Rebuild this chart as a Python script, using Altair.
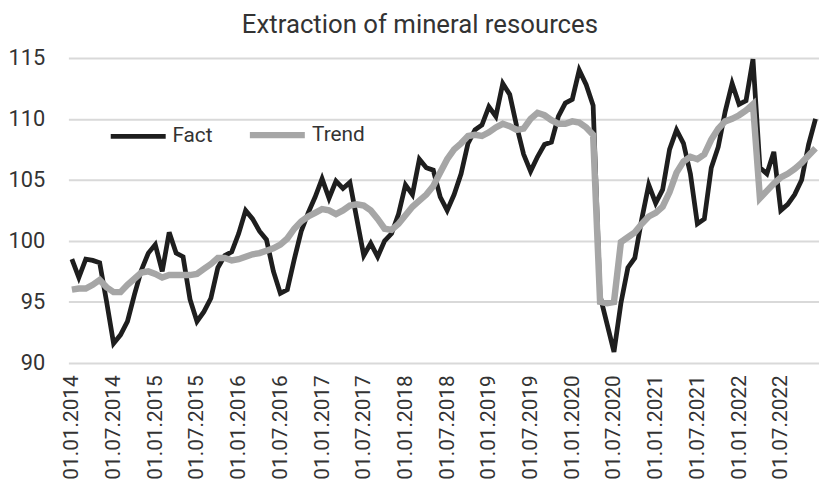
import altair as alt
import pandas as pd

# Monthly categories Jan 2014 .. Dec 2022
dates = [f"01.{m:02d}.{y}" for y in range(2014, 2023) for m in range(1, 13)]

tick_labels = [
    "01.01.2014", "01.07.2014", "01.01.2015", "01.07.2015", "01.01.2016",
    "01.07.2016", "01.01.2017", "01.07.2017", "01.01.2018", "01.07.2018",
    "01.01.2019", "01.07.2019", "01.01.2020", "01.07.2020", "01.01.2021",
    "01.07.2021", "01.01.2022", "01.07.2022",
]

fact = [
    98.5, 97.0, 98.5, 98.4, 98.2, 95.0, 91.6, 92.3, 93.4, 95.6, 97.6, 99.0,
    99.7, 97.5, 100.7, 99.0, 98.7, 95.2, 93.4, 94.2, 95.3, 97.8, 98.8, 99.1,
    100.6, 102.5, 101.8, 100.8, 100.1, 97.5, 95.7, 96.0, 98.5, 100.8, 102.3, 103.6,
    105.1, 103.5, 104.9, 104.3, 104.8, 101.8, 98.8, 99.8, 98.7, 100.0, 100.6, 102.2,
    104.6, 103.8, 106.7, 106.0, 105.8, 103.6, 102.5, 103.8, 105.5, 108.0, 109.1, 109.5,
    111.0, 110.2, 112.9, 112.0, 109.4, 107.1, 105.7, 106.9, 107.9, 108.1, 110.2, 111.3,
    111.6, 114.0, 112.8, 111.1, 95.5, 93.2, 90.9, 94.9, 97.8, 98.6, 101.8, 104.6,
    103.1, 104.2, 107.5, 109.1, 108.0, 105.5, 101.4, 101.8, 106.0, 107.7, 110.6, 112.9,
    111.2, 111.5, 114.9, 106.0, 105.5, 107.3, 102.5, 103.0, 103.8, 105.0, 107.9, 110.0,
]

trend = [
    96.0, 96.1, 96.1, 96.4, 96.8, 96.2, 95.8, 95.8, 96.4, 96.9, 97.4, 97.5,
    97.3, 97.0, 97.2, 97.2, 97.2, 97.2, 97.3, 97.7, 98.1, 98.6, 98.6, 98.4,
    98.5, 98.7, 98.9, 99.0, 99.2, 99.4, 99.7, 100.2, 101.0, 101.6, 102.0, 102.3,
    102.6, 102.5, 102.2, 102.5, 102.9, 103.0, 102.9, 102.5, 101.8, 101.0, 100.9, 101.4,
    102.1, 102.8, 103.3, 103.8, 104.5, 105.6, 106.7, 107.5, 108.0, 108.6, 108.7, 108.6,
    108.9, 109.3, 109.6, 109.4, 109.1, 109.2, 110.0, 110.5, 110.3, 109.9, 109.6, 109.6,
    109.8, 109.7, 109.3, 108.7, 95.0, 94.9, 95.0, 99.9, 100.3, 100.7, 101.4, 102.0,
    102.3, 102.8, 104.0, 105.6, 106.5, 106.9, 106.7, 107.1, 108.3, 109.2, 109.8, 110.0,
    110.3, 110.7, 111.2, 103.5, 104.1, 104.7, 105.2, 105.5, 105.9, 106.4, 107.0, 107.6,
]

series_names = ["Fact", "Trend"]
series_colors = ["#1e1e1e", "#a6a6a6"]
series_widths = [4.8, 6.5]
y_ticks = [90, 95, 100, 105, 110, 115]

FONT = "Roboto"
TEXT = "#333333"

df = pd.concat(
    [
        pd.DataFrame({"date": dates, "series": "Fact", "value": fact}),
        pd.DataFrame({"date": dates, "series": "Trend", "value": trend}),
    ],
    ignore_index=True,
)

chart = (
    alt.Chart(df)
    .mark_line()
    .encode(
        x=alt.X(
            "date:O",
            sort=None,
            scale=alt.Scale(type="point", padding=0.5, domain=dates),
            axis=alt.Axis(
                values=tick_labels, labelAngle=270, labelPadding=12, title=None,
                labelFontSize=21, labelFont=FONT, labelColor=TEXT, grid=False,
                ticks=False, domain=False,
            ),
        ),
        y=alt.Y(
            "value:Q",
            scale=alt.Scale(domain=[90, 115], nice=False, zero=False),
            axis=alt.Axis(
                values=y_ticks, title=None, labelFontSize=22, labelFont=FONT,
                labelColor=TEXT, labelPadding=24, ticks=False, domain=False,
                grid=True, gridColor="#d9d9d9", gridWidth=2,
            ),
        ),
        color=alt.Color(
            "series:N",
            scale=alt.Scale(domain=series_names, range=series_colors),
            legend=alt.Legend(
                orient="none", legendX=40, legendY=47, direction="horizontal",
                title=None, symbolType="stroke", symbolSize=3080,
                symbolStrokeWidth=6, labelFontSize=21, labelFont=FONT,
                labelColor=TEXT, labelOffset=4, columnPadding=24,
            ),
        ),
        strokeWidth=alt.StrokeWidth(
            "series:N",
            scale=alt.Scale(domain=series_names, range=series_widths),
            legend=None,
        ),
    )
    .properties(
        width=758,
        height=308,
        autosize=alt.AutoSizeParams(type="none"),
        padding={"left": 61, "top": 48, "right": 0, "bottom": 131},
        title=alt.TitleParams(
            "Extraction of mineral resources", fontSize=26, font=FONT,
            fontWeight="normal", color=TEXT, anchor="middle", dx=-24, offset=9,
        ),
        background="white",
    )
    .configure_view(stroke=None)
)

chart.save("out.html", embed_options={"renderer": "svg", "actions": False})
